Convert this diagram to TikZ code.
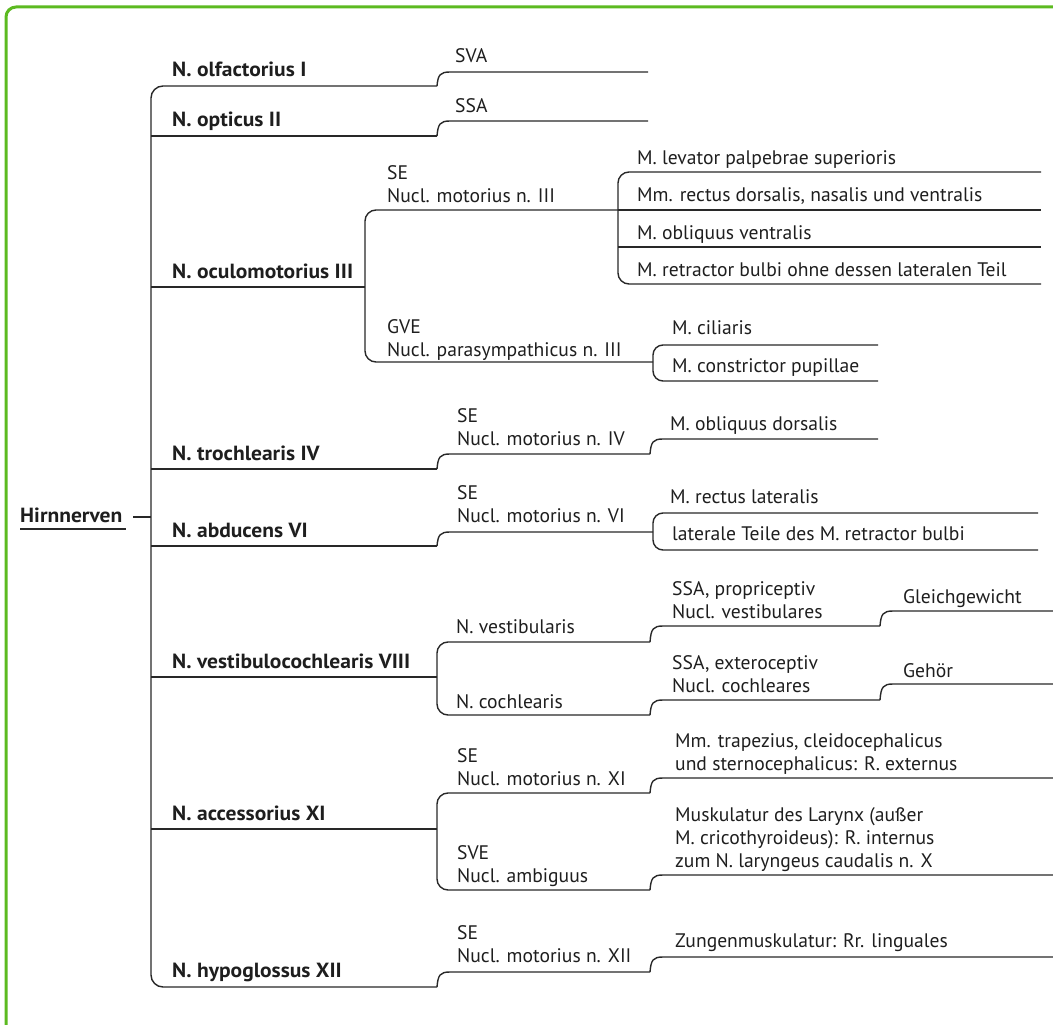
\documentclass[tikz,border=0pt]{standalone}
\usepackage{fontspec}
\usepackage{graphicx}
\usetikzlibrary{calc}
\setmainfont{PT Sans}
\definecolor{frame}{RGB}{92,186,32}
\definecolor{ink}{RGB}{30,30,30}
\definecolor{wire}{RGB}{40,40,40}
\newcommand\nv[1]{\scalebox{1.05}[1]{\bfseries #1}}
\tikzset{
  ln/.style={draw=wire, line width=1.4pt},
  lbl/.style={anchor=base west, inner sep=0pt, text=ink, font=\fontsize{19.6}{23}\selectfont, align=left},
  nerve/.style={lbl, font=\fontsize{20.5}{23}\selectfont},
}
% step connector: from (x,ylow) rising to yhigh, continuing to xend
\newcommand\stepline[4]{\draw[ln] (#1,#2) .. controls (#1+1,#3+3) and (#1+3,#3) .. (#1+13,#3) -- (#4,#3);}
\begin{document}
\begin{tikzpicture}[x=1pt,y=-1pt]
\useasboundingbox (0,0) rectangle (1053,1025);
% green frame
\draw[frame, line width=3pt, rounded corners=10pt] (6,1025) -- (6,7) -- (1053,7);

% root
\node[nerve] (root) at (20,522) {\nv{Hirnnerven}};
\draw[ln] ($(root.base west)+(0,7)$) -- ($(root.base east)+(4,7)$);
\draw[ln] (133,517) coordinate (dash) -- (151,517);

% level 1 labels
\node[nerve] (olf) at (172,77) {\nv{N. olfactorius I}};
\node[nerve] (opt) at (172,127) {\nv{N. opticus II}};
\node[nerve] (ocu) at (172,278) {\nv{N. oculomotorius III}};
\node[nerve] (tro) at (172,460) {\nv{N. trochlearis IV}};
\node[nerve] (abd) at (172,537) {\nv{N. abducens VI}};
\node[nerve] (ves) at (172,668) {\nv{N. vestibulocochlearis VIII}};
\node[nerve] (acc) at (172,820) {\nv{N. accessorius XI}};
\node[nerve] (hyp) at (172,977) {\nv{N. hypoglossus XII}};

% main bracket
\draw[ln, rounded corners=12pt] (437,86) -- (151,86) -- (151,987) -- (437,987);
\draw[ln] (151,136) -- (437,136);
\draw[ln] (151,287) -- (365,287);
\draw[ln] (151,469) -- (437,469);
\draw[ln] (151,546) -- (437,546);
\draw[ln] (151,677) -- (437,677);
\draw[ln] (151,829) -- (437,829);

% olfactorius / opticus
\stepline{437}{86}{72}{648}
\node[lbl] (sva) at (455,63) {SVA};
\stepline{437}{136}{121}{648}
\node[lbl] (ssa) at (455,112) {SSA};

% oculomotorius
\draw[ln, rounded corners=11pt] (618,210) -- (365,210) -- (365,362) -- (653,362);
\node[lbl] (ocuse) at (387,202) {SE\\Nucl. motorius n. III};
\node[lbl] (ocugve) at (387,356) {GVE\\Nucl. parasympathicus n. III};
\draw[ln, rounded corners=11pt] (1041,172) -- (618,172) -- (618,284) -- (1041,284);
\draw[ln] (618,210) -- (1041,210);
\draw[ln] (618,247) -- (1041,247);
\node[lbl] (m1) at (637,164) {M. levator palpebrae superioris};
\node[lbl] (m2) at (637,201) {Mm. rectus dorsalis, nasalis und ventralis};
\node[lbl] (m3) at (637,239) {M. obliquus ventralis};
\node[lbl] (m4) at (637,276) {M. retractor bulbi ohne dessen lateralen Teil};
\draw[ln, rounded corners=10pt] (878,345) -- (653,345) -- (653,381) -- (878,381);
\node[lbl] (m5) at (672,334) {M. ciliaris};
\node[lbl] (m6) at (672,372) {M. constrictor pupillae};

% trochlearis
\stepline{437}{469}{454}{650}
\node[lbl] (trose) at (457,445) {SE\\Nucl. motorius n. IV};
\stepline{650}{454}{439}{878}
\node[lbl] (m7) at (670,430) {M. obliquus dorsalis};

% abducens
\stepline{437}{546}{532}{653}
\node[lbl] (abdse) at (457,522) {SE\\Nucl. motorius n. VI};
\draw[ln, rounded corners=10pt] (1038,513) -- (653,513) -- (653,550) -- (1038,550);
\node[lbl] (m8) at (670,503) {M. rectus lateralis};
\node[lbl] (m9) at (672,540) {laterale Teile des M. retractor bulbi};

% vestibulocochlearis
\draw[ln, rounded corners=11pt] (650,642) -- (437,642) -- (437,715) -- (650,715);
\node[lbl] (vesti) at (456,633) {N. vestibularis};
\node[lbl] (coch) at (456,708) {N. cochlearis};
\stepline{650}{642}{626}{880}
\node[lbl] (vnuc) at (672,618) {SSA, propriceptiv\\Nucl. vestibulares};
\stepline{880}{626}{611}{1053}
\node[lbl] (gg) at (903,603) {Gleichgewicht};
\stepline{650}{715}{700}{880}
\node[lbl] (cnuc) at (672,692) {SSA, exteroceptiv\\Nucl. cochleares};
\stepline{880}{700}{684}{1053}
\node[lbl] (geh) at (903,677) {Gehör};

% accessorius
\draw[ln, rounded corners=11pt] (650,793) -- (437,793) -- (437,890) -- (650,890);
\node[lbl] (accse) at (457,785) {SE\\Nucl. motorius n. XI};
\node[lbl] (accsve) at (457,882) {SVE\\Nucl. ambiguus};
\stepline{650}{793}{778}{1053}
\node[lbl] (ext) at (675,770) {Mm. trapezius, cleidocephalicus\\und sternocephalicus: R. externus};
\stepline{650}{890}{875}{1053}
\node[lbl] (int) at (675,867) {Muskulatur des Larynx (außer\\M. cricothyroideus): R. internus\\zum N. laryngeus caudalis n. X};

% hypoglossus
\stepline{437}{987}{972}{650}
\node[lbl] (hypse) at (457,962) {SE\\Nucl. motorius n. XII};
\stepline{650}{972}{957}{1053}
\node[lbl] (zung) at (675,947) {Zungenmuskulatur: Rr. linguales};
\end{tikzpicture}
\end{document}
